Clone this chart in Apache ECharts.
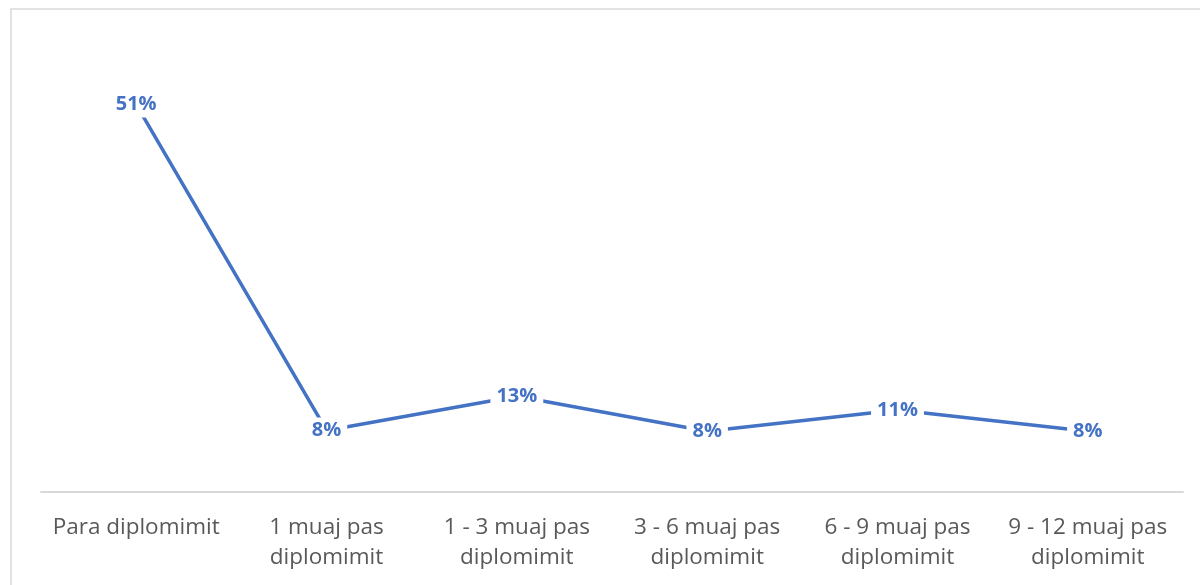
<!DOCTYPE html>
<html>
<head>
<meta charset="utf-8">
<script src="https://cdn.jsdelivr.net/npm/echarts@6/dist/echarts.min.js"></script>
<style>
  html, body { margin: 0; padding: 0; background: #fff; }
  #chart { width: 1200px; height: 585px; }
</style>
</head>
<body>
<div id="chart"></div>
<script>
// kategoritë dhe vlerat (%)
var categories = ['Para diplomimit', '1 muaj pas\ndiplomimit', '1 - 3 muaj pas\ndiplomimit', '3 - 6 muaj pas\ndiplomimit', '6 - 9 muaj pas\ndiplomimit', '9 - 12 muaj pas\ndiplomimit']
var shares = [51.0, 8.1, 12.6, 8.0, 10.8, 8.0]

var chart = echarts.init(document.getElementById('chart'))
chart.setOption({
  animation: false,
  graphic: [{
    type: 'rect',
    shape: { x: 11, y: 9, width: 1250, height: 640 },
    style: { fill: null, stroke: '#d9d9d9', lineWidth: 1.5 },
    silent: true
  }],
  grid: { left: 41, right: 17, top: 36, bottom: 93 },
  xAxis: {
    type: 'category',
    data: categories,
    boundaryGap: true,
    axisTick: { show: false },
    axisLine: { lineStyle: { color: '#d9d9d9', width: 2 } },
    axisLabel: {
      color: '#595959',
      fontFamily: 'Open Sans',
      fontSize: 22.5,
      lineHeight: 30,
      margin: 21,
      interval: 0
    }
  },
  yAxis: {
    type: 'value',
    min: 0,
    max: 60,
    show: false,
    splitLine: { show: false }
  },
  series: [{
    type: 'line',
    data: shares,
    symbol: 'circle',
    symbolSize: 0,
    showSymbol: true,
    lineStyle: { color: '#4472c4', width: 3.5 },
    itemStyle: { color: '#4472c4' },
    label: {
      show: true,
      position: 'inside',
      color: '#4472c4',
      fontFamily: 'Open Sans',
      fontWeight: 'bold',
      fontSize: 20,
      backgroundColor: '#fff',
      padding: [3, 6],
      formatter: function (p) { return Math.round(p.value) + '%' }
    }
  }]
})
</script>
</body>
</html>
